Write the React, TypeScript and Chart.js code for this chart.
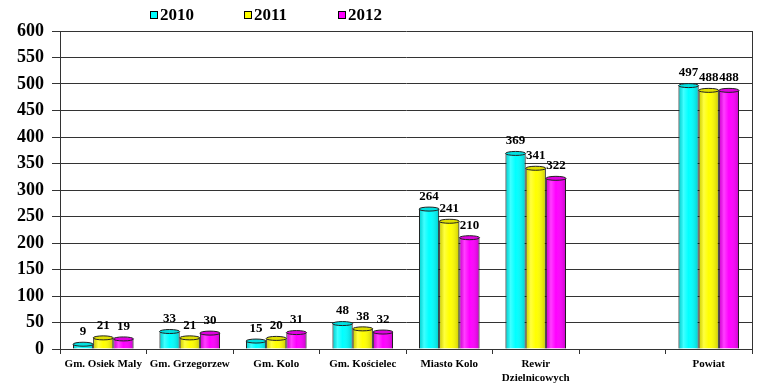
import React, { useEffect, useRef } from "react";
import { Chart, registerables } from "chart.js";

Chart.register(...registerables);

const categories: (string | string[])[] = [
  "Gm. Osiek Maly",
  "Gm. Grzegorzew",
  "Gm. Kolo",
  "Gm. Kościelec",
  "Miasto Kolo",
  ["Rewir", "Dzielnicowych"],
  "",
  "Powiat",
];

const seriesNames = ["2010", "2011", "2012"];
const values2010 = [9, 33, 15, 48, 264, 369, null, 497];
const values2011 = [21, 21, 20, 38, 241, 341, null, 488];
const values2012 = [19, 30, 31, 32, 210, 322, null, 488];
const seriesColors = ["#00FFFF", "#FFFF00", "#FF00FF"];

const yMin = 0;
const yMax = 600;
const yStep = 50;

const SERIF = "'Liberation Serif', 'Times New Roman', serif";

const barStylePlugin = {
  id: "barStyle",
  afterDatasetsDraw(chart: any) {
    const ctx = chart.ctx;
    chart.data.datasets.forEach((ds: any, di: number) => {
      const meta = chart.getDatasetMeta(di);
      meta.data.forEach((bar: any, i: number) => {
        const v = ds.data[i];
        if (v === null || v === undefined) return;
        const { x, y, base, width } = bar.getProps(["x", "y", "base", "width"], true);
        const left = x - width / 2;
        const g = ctx.createLinearGradient(left, 0, left + width, 0);
        g.addColorStop(0, "rgba(0,0,0,0.18)");
        g.addColorStop(0.25, "rgba(255,255,255,0.25)");
        g.addColorStop(0.5, "rgba(255,255,255,0.0)");
        g.addColorStop(1, "rgba(0,0,0,0.22)");
        ctx.save();
        ctx.fillStyle = g;
        ctx.fillRect(left, y, width, base - y);
        ctx.beginPath();
        ctx.ellipse(x, y, width / 2, 2, 0, 0, Math.PI * 2);
        ctx.fillStyle = ds.backgroundColor;
        ctx.fill();
        ctx.fillStyle = "rgba(0,0,0,0.12)";
        ctx.fill();
        ctx.lineWidth = 1;
        ctx.strokeStyle = "#222";
        ctx.stroke();
        ctx.restore();
      });
    });
  },
};

const valueLabelPlugin = {
  id: "valueLabels",
  afterDatasetsDraw(chart: any) {
    const ctx = chart.ctx;
    ctx.save();
    ctx.font = `bold 13px ${SERIF}`;
    ctx.fillStyle = "#000";
    ctx.textAlign = "center";
    ctx.textBaseline = "bottom";
    chart.data.datasets.forEach((ds: any, di: number) => {
      const meta = chart.getDatasetMeta(di);
      meta.data.forEach((bar: any, i: number) => {
        const v = ds.data[i];
        if (v === null || v === undefined) return;
        ctx.fillText(String(v), bar.x, bar.y - 6);
      });
    });
    ctx.restore();
  },
};

const frameLegendPlugin = {
  id: "frameLegend",
  beforeDatasetsDraw(chart: any) {
    const ctx = chart.ctx;
    const a = chart.chartArea;
    ctx.save();
    ctx.strokeStyle = "#333";
    ctx.lineWidth = 1;
    ctx.beginPath();
    ctx.moveTo(a.right + 0.5, a.top);
    ctx.lineTo(a.right + 0.5, a.bottom);
    ctx.stroke();
    ctx.restore();
  },
  afterDraw(chart: any) {
    const ctx = chart.ctx;
    const startX = 150;
    const stepX = 94;
    const cy = 15;
    ctx.save();
    ctx.font = `bold 17px ${SERIF}`;
    ctx.textBaseline = "middle";
    ctx.textAlign = "left";
    seriesNames.forEach((name, i) => {
      const bx = startX + i * stepX;
      ctx.fillStyle = seriesColors[i];
      ctx.fillRect(bx, cy - 4, 8, 8);
      ctx.strokeStyle = "#000";
      ctx.lineWidth = 1;
      ctx.strokeRect(bx + 0.5, cy - 3.5, 7, 7);
      ctx.fillStyle = "#000";
      ctx.fillText(name, bx + 10, cy + 1);
    });
    ctx.restore();
  },
};

export default function App() {
  const ref = useRef<HTMLCanvasElement | null>(null);

  useEffect(() => {
    if (!ref.current) return;
    const series = [values2010, values2011, values2012];
    const chart = new Chart(ref.current, {
      type: "bar",
      data: {
        labels: categories,
        datasets: series.map((d, i) => ({
          label: seriesNames[i],
          data: d,
          backgroundColor: seriesColors[i],
          borderColor: "#222",
          borderWidth: 1,
          categoryPercentage: 0.7,
          barPercentage: 1.0,
        })),
      },
      options: {
        animation: false,
        responsive: false,
        maintainAspectRatio: false,
        layout: { padding: { top: 31, right: 13, left: 0, bottom: 0 } },
        plugins: {
          legend: { display: false },
          tooltip: { enabled: false },
          title: { display: false },
        },
        scales: {
          x: {
            offset: true,
            grid: {
              display: true,
              offset: true,
              drawOnChartArea: false,
              drawTicks: true,
              tickLength: 5,
              color: "#333",
            },
            border: { display: true, color: "#333", width: 1 },
            ticks: {
              color: "#000",
              font: { family: SERIF, size: 11, weight: "bold" },
              padding: 4,
              maxRotation: 0,
              autoSkip: false,
            },
            afterFit(scale: any) {
              scale.height = 41;
            },
          },
          y: {
            min: yMin,
            max: yMax,
            ticks: {
              stepSize: yStep,
              color: "#000",
              font: { family: SERIF, size: 18, weight: "bold" },
              padding: 8,
            },
            grid: {
              color: "#333",
              lineWidth: 1,
              tickLength: 8,
            },
            border: { display: true, color: "#333", width: 1 },
            afterFit(scale: any) {
              scale.width = 60;
            },
          },
        },
      },
      plugins: [frameLegendPlugin, barStylePlugin, valueLabelPlugin],
    });
    return () => chart.destroy();
  }, []);

  return (
    <div style={{ position: "fixed", left: 0, top: 0, width: 765, height: 390, background: "#fff" }}>
      <canvas ref={ref} width={765} height={390} style={{ width: 765, height: 390 }} />
    </div>
  );
}
